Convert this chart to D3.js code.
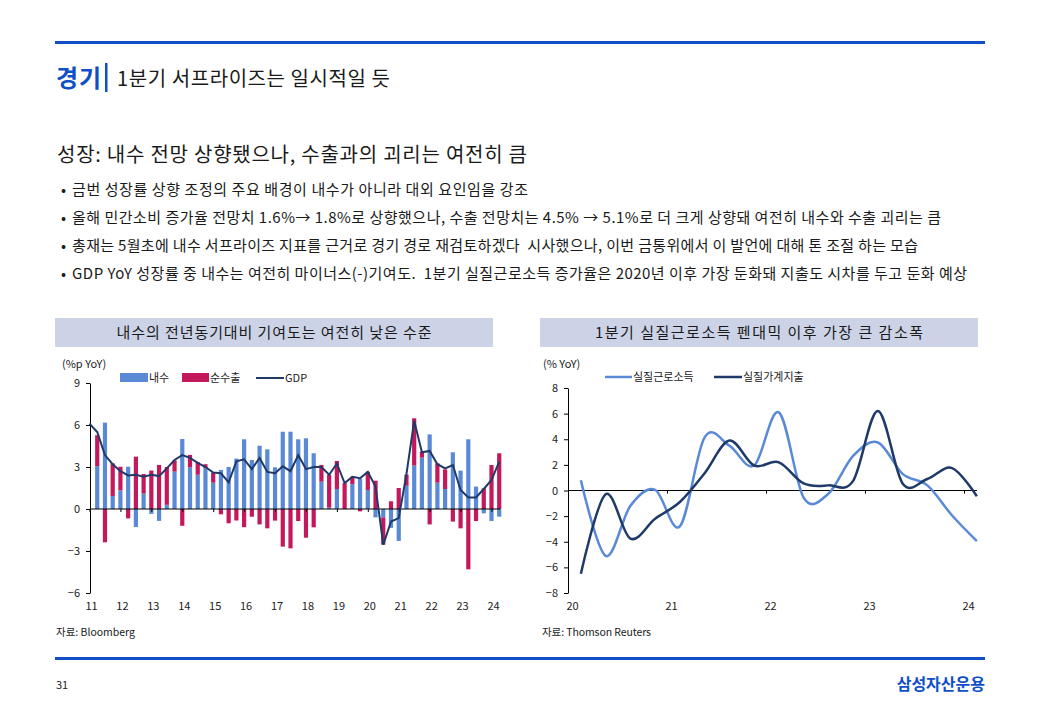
<!DOCTYPE html>
<html>
<head>
<meta charset="utf-8">
<script src="https://cdn.jsdelivr.net/npm/d3@7"></script>
<style>
    body { margin: 0; background: #fff; }
    text { font-family: "Noto Sans CJK KR", "Noto Sans", sans-serif; fill: #1a1a1a; }
    .axis path, .axis line { stroke: #000; }
    .axis text { font-size: 11px; }
    .ttl { font-size: 15px; }
</style>
</head>
<body>
<script>
// ---- left chart: quarterly contribution (10Q4 .. 24Q1)
let quarters = d3.range(54).map(i => {
    let y = 2010 + Math.floor((i + 3) / 4), q = (i + 3) % 4 + 1;
    return (y % 100) + "Q" + q;
});
let naesu = [null, 3.07, 6.17, 0.93, 1.33, 3.02, -1.29, 1.1, -0.35, -0.85, 0.3, 2.67, 5.0, 2.98, 2.45, 2.9,
    1.88, 2.79, 3.0, 3.6, 4.98, 3.5, 4.52, 4.26, 2.98, 5.52, 5.52, 4.98, 5.05, 3.98, 1.95, 0.1, 1.43, 0,
    1.79, 2.17, 1.36, -0.6, -0.6, -1.35, -2.28, 1.66, 3.1, 3.67, 5.33, 1.88, 1.43, 4.05, 2.74, 4.98, 1.6,
    -0.31, -0.86, -0.55];
let netExport = [null, 2.2, -2.38, 2.33, 1.69, -0.67, 3.74, 1.4, 2.75, 3.15, 2.7, 0.8, -1.2, 0.88, 0.9, 0.3,
    0.72, -0.38, -1.02, -0.82, -1.3, -0.55, -1.1, -1.38, -0.83, -2.69, -2.81, -0.86, -2.05, -1.31, 1.2, 2.35,
    2.0, 1.85, 0.52, -0.17, 1.3, 2.02, -1.95, 0.55, 1.5, 0.8, 3.38, 0.43, -1.1, 1.38, 1.4, -0.9, -1.38,
    -4.31, -0.86, 1.48, 3.14, 3.98];
let gdp = [6.1, 5.5, 3.85, 3.2, 2.7, 2.4, 2.45, 2.3, 2.45, 2.35, 2.9, 3.5, 3.85, 3.65, 3.3, 3.0, 2.6, 2.55,
    1.9, 3.4, 3.55, 2.85, 3.65, 2.65, 2.55, 3.05, 2.7, 3.85, 2.85, 3.0, 3.0, 2.45, 3.25, 1.85, 2.3, 2.2,
    2.65, 1.6, -2.55, -0.9, -0.65, 2.5, 6.3, 4.05, 4.15, 3.2, 2.9, 3.14, 1.36, 0.83, 0.83, 1.43, 2.07, 3.38];
let leftYears = d3.range(11, 25);
let leftYTicks = [-6, -3, 0, 3, 6, 9];

// ---- right chart: 20Q1 .. 24Q1
let rQuarters = d3.range(17).map(i => (20 + Math.floor(i / 4)) + "Q" + (i % 4 + 1));
let income = [0.8, -5.1, -1.2, 0.05, -2.8, 4.15, 3.5, 1.95, 6.1, -0.55, -0.25, 2.7, 3.75, 1.3, 0.4, -1.95, -3.95];
let spending = [-6.5, -0.3, -3.75, -2.2, -0.9, 1.35, 3.9, 1.95, 2.2, 0.55, 0.4, 0.75, 6.2, 0.55, 0.9, 1.75, -0.45];
let rightYears = [20, 21, 22, 23, 24];
let rightYTicks = d3.range(-8, 9, 2);

let blue = "#5a8ad6", red = "#c4185c", navy = "#1f3a68", brand = "#0f4fc8";

function qTime(label, off) {
    let y = +label.split("Q")[0], q = +label.split("Q")[1];
    return y + (q - 1) / 4 + off;
}

function draw() {
    let svg = d3.select("body").append("svg").attr("width", 1040).attr("height", 720);

    // page frame
    svg.append("rect").attr("x", 55).attr("y", 41).attr("width", 930).attr("height", 3).attr("fill", brand);
    svg.append("rect").attr("x", 55).attr("y", 657).attr("width", 930).attr("height", 3).attr("fill", brand);
    svg.append("text").text("경기").attr("x", 56).attr("y", 87).attr("textLength", 45)
        .style("font-size", "24px").style("font-weight", "bold").style("fill", brand);
    svg.append("rect").attr("x", 105).attr("y", 63).attr("width", 2.5).attr("height", 29).attr("fill", brand);
    svg.append("text").text("1분기 서프라이즈는 일시적일 듯").attr("x", 117).attr("y", 86).attr("textLength", 273)
        .style("font-size", "20px");
    svg.append("text").text("성장: 내수 전망 상향됐으나, 수출과의 괴리는 여전히 큼").attr("x", 57).attr("y", 162)
        .attr("textLength", 470).style("font-size", "20px");

    let bullets = [
        "금번 성장률 상향 조정의 주요 배경이 내수가 아니라 대외 요인임을 강조",
        "올해 민간소비 증가율 전망치 1.6%→ 1.8%로 상향했으나, 수출 전망치는 4.5% → 5.1%로 더 크게 상향돼 여전히 내수와 수출 괴리는 큼",
        "총재는 5월초에 내수 서프라이즈 지표를 근거로 경기 경로 재검토하겠다  시사했으나, 이번 금통위에서 이 발언에 대해 톤 조절 하는 모습",
        "GDP YoY 성장률 중 내수는 여전히 마이너스(-)기여도.  1분기 실질근로소득 증가율은 2020년 이후 가장 둔화돼 지출도 시차를 두고 둔화 예상"
    ];
    let bulletLen = [456, 869, 846, 895];
    bullets.forEach((b, i) => {
        svg.append("text").text("•").attr("x", 61).attr("y", 195 + i * 28).style("font-size", "15px");
        svg.append("text").text(b).attr("x", 72).attr("y", 195 + i * 28).style("font-size", "15px")
            .attr("textLength", bulletLen[i]).attr("xml:space", "preserve");
    });

    // chart header boxes
    [[55, "내수의 전년동기대비 기여도는 여전히 낮은 수준", 315], [540, "1분기 실질근로소득 펜대믹 이후 가장 큰 감소폭", 328]]
        .forEach(h => {
            svg.append("rect").attr("x", h[0]).attr("y", 318).attr("width", 438).attr("height", 29).attr("fill", "#cdd3e6");
            svg.append("text").text(h[1]).attr("x", h[0] + 219).attr("y", 338).attr("text-anchor", "middle")
                .attr("textLength", h[2]).attr("class", "ttl");
        });

    // ======== left chart ========
    let x = d3.scaleLinear().domain([11, 24]).range([89.5, 491.5]);
    let y = d3.scaleLinear().domain([-6, 9]).range([593, 383]);
    let tl = i => x(11 + i * 0.25);
    let bw = 4.2;

    svg.append("g").attr("class", "axis").attr("transform", "translate(90,0)")
        .call(d3.axisLeft(y).tickValues(leftYTicks).tickSize(4).tickSizeOuter(0).tickPadding(6));

    let stacks = naesu.map((v, i) => {
        if (v === null) return [];
        let pos = 0, neg = 0, out = [];
        [[v, blue], [netExport[i], red]].forEach(s => {
            let base = s[0] >= 0 ? pos : neg;
            out.push({i: i, y0: base, y1: base + s[0], c: s[1]});
            if (s[0] >= 0) pos += s[0]; else neg += s[0];
        });
        return out;
    });
    svg.append("g").selectAll("rect")
        .data(stacks.flat())
        .join("rect")
        .attr("x", d => tl(d.i) - bw / 2)
        .attr("width", bw)
        .attr("y", d => y(Math.max(d.y0, d.y1)))
        .attr("height", d => Math.abs(y(d.y0) - y(d.y1)))
        .attr("fill", d => d.c);

    svg.append("g").attr("class", "axis").attr("transform", "translate(0," + y(0) + ")")
        .call(d3.axisBottom(x).tickValues(leftYears).tickFormat("").tickSize(3).tickSizeOuter(0))
        .select(".domain").attr("d", "M90,0H500");
    svg.append("g").attr("class", "axis").attr("transform", "translate(1.5,598)")
        .call(d3.axisBottom(x).tickValues(leftYears).tickFormat(d3.format("d")).tickSize(0).tickPadding(4))
        .select(".domain").remove();

    svg.append("path")
        .attr("d", d3.line().x((d, i) => tl(i)).y(d => y(d))(gdp))
        .attr("fill", "none").attr("stroke", navy).attr("stroke-width", 2);

    svg.append("text").text("(%p YoY)").attr("x", 62).attr("y", 368).style("font-size", "11px");
    let lg = svg.append("g").style("font-size", "11px");
    lg.append("rect").attr("x", 120).attr("y", 373).attr("width", 28).attr("height", 9).attr("fill", blue);
    lg.append("text").text("내수").attr("x", 149).attr("y", 382);
    lg.append("rect").attr("x", 182).attr("y", 373).attr("width", 27).attr("height", 9).attr("fill", red);
    lg.append("text").text("순수출").attr("x", 210).attr("y", 382);
    lg.append("line").attr("x1", 256).attr("x2", 284).attr("y1", 378).attr("y2", 378)
        .attr("stroke", navy).attr("stroke-width", 2);
    lg.append("text").text("GDP").attr("x", 285).attr("y", 382);

    // ======== right chart ========
    let rx = d3.scaleLinear().domain([20, 24]).range([568, 964]);
    let ry = d3.scaleLinear().domain([-8, 8]).range([593, 388]);

    svg.append("g").attr("class", "axis").attr("transform", "translate(568,0)")
        .call(d3.axisLeft(ry).tickValues(rightYTicks).tickSize(4).tickSizeOuter(0).tickPadding(6));
    svg.append("g").attr("class", "axis").attr("transform", "translate(0," + ry(0) + ")")
        .call(d3.axisBottom(rx).tickValues(rightYears).tickFormat("").tickSize(3).tickSizeOuter(0))
        .select(".domain").attr("d", "M568,0H977");
    svg.append("g").attr("class", "axis").attr("transform", "translate(4,598)")
        .call(d3.axisBottom(rx).tickValues(rightYears).tickFormat(d3.format("d")).tickSize(0).tickPadding(4))
        .select(".domain").remove();

    let rline = d3.line().curve(d3.curveCatmullRom.alpha(0))
        .x((d, i) => rx(qTime(rQuarters[i], 0.13))).y(d => ry(d));
    svg.append("path").attr("d", rline(income)).attr("fill", "none").attr("stroke", blue).attr("stroke-width", 2.5);
    svg.append("path").attr("d", rline(spending)).attr("fill", "none").attr("stroke", navy).attr("stroke-width", 2.5);

    svg.append("text").text("(% YoY)").attr("x", 543).attr("y", 368).style("font-size", "11px");
    let rg = svg.append("g").style("font-size", "11px");
    rg.append("line").attr("x1", 605).attr("x2", 632).attr("y1", 377).attr("y2", 377)
        .attr("stroke", blue).attr("stroke-width", 2.5);
    rg.append("text").text("실질근로소득").attr("x", 633).attr("y", 381);
    rg.append("line").attr("x1", 714).attr("x2", 742).attr("y1", 377).attr("y2", 377)
        .attr("stroke", navy).attr("stroke-width", 2.5);
    rg.append("text").text("실질가계지출").attr("x", 743).attr("y", 381);

    // sources + footer
    svg.append("text").text("자료: Bloomberg").attr("x", 56).attr("y", 636).attr("textLength", 79).style("font-size", "10.5px");
    svg.append("text").text("자료: Thomson Reuters").attr("x", 542).attr("y", 636).attr("textLength", 109).style("font-size", "10.5px");
    svg.append("text").text("31").attr("x", 56).attr("y", 689).style("font-size", "11px");
    svg.append("text").text("삼성자산운용").attr("x", 985).attr("y", 690).attr("text-anchor", "end")
        .style("font-size", "16px").style("font-weight", "bold").style("fill", brand);
}
draw();
</script>
</body>
</html>
